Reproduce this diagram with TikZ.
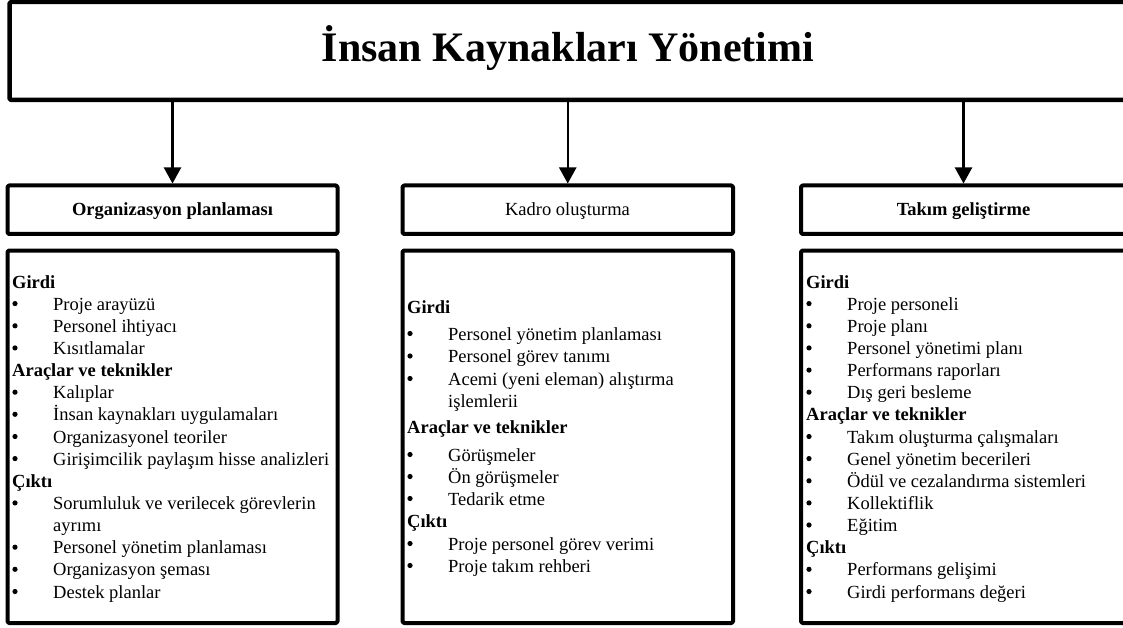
\documentclass[tikz,border=0pt]{standalone}
\usepackage{fontspec}
\setmainfont{Liberation Serif}
\usetikzlibrary{arrows.meta}

% section heading inside a body box
\newcommand\sechead[4]{\node[headtext] (#1) at (#2,#3) {#4};}
% bulleted entry: bullet at the left, text indented
\newcommand\bulitem[4]{%
  \fill (#2+3,#3-6.5) circle[radius=2.6pt];
  \node[itemtext] (#1) at (#2+41,#3) {#4};}
% continuation line of a bulleted entry
\newcommand\contitem[4]{\node[itemtext] (#1) at (#2+41,#3) {#4};}

\begin{document}
\begin{tikzpicture}[x=1pt,y=-1pt,
  frame/.style={draw=black, fill=white, line width=4pt, rounded corners=1.5pt,
                line join=round, inner sep=0pt},
  titletext/.style={font=\fontsize{42}{50}\selectfont\bfseries, anchor=base, inner sep=0pt},
  boxtitle/.style={font=\fontsize{18.5}{22}\selectfont, anchor=base, inner sep=0pt},
  headtext/.style={font=\fontsize{18.5}{22}\selectfont\bfseries, anchor=base west, inner sep=0pt},
  itemtext/.style={font=\fontsize{18.5}{22}\selectfont, anchor=base west, inner sep=0pt},
  conn/.style={draw=black, line width=2.2pt, -{Triangle[width=17pt,length=16pt]}}
]
\useasboundingbox (0,0) rectangle (1123,628);

% top box (runs past the right edge of the page)
\node[frame, line width=4.5pt, minimum width=1121.5pt, minimum height=98pt] (hrm) at (570.25,51) {};
\node[titletext] (title) at (568,62) {İnsan Kaynakları Yönetimi};

% process headers
\node[frame, minimum width=330pt, minimum height=48.5pt] (hdrL) at (172.5,209.75) {};
\node[frame, minimum width=330.5pt, minimum height=48.5pt] (hdrM) at (567.75,209.75) {};
\node[frame, minimum width=332pt, minimum height=48.5pt] (hdrR) at (967,209.75) {};
\node[boxtitle] (hdrLt) at (172.5,216) {\bfseries Organizasyon planlaması};
\node[boxtitle] (hdrMt) at (567.5,216) {Kadro oluşturma};
\node[boxtitle] (hdrRt) at (963.5,216) {\bfseries Takım geliştirme};

% body boxes
\node[frame, minimum width=330pt, minimum height=372.5pt] (bodyL) at (172.5,436.75) {};
\node[frame, minimum width=330.5pt, minimum height=372.5pt] (bodyM) at (567.75,436.75) {};
\node[frame, minimum width=332pt, minimum height=372.5pt] (bodyR) at (967,436.75) {};

% connectors
\draw[conn] (hrm.south -| hdrL.north) -- (hdrL.north);
\draw[conn] (hrm.south -| hdrM.north) -- (hdrM.north);
\draw[conn] (hrm.south -| hdrRt.base) -- (hdrR.north -| hdrRt.base);

% left column
\sechead{l0}{12}{288}{Girdi}
\bulitem{l1}{12}{310.1}{Proje arayüzü}
\bulitem{l2}{12}{332.3}{Personel ihtiyacı}
\bulitem{l3}{12}{354.4}{Kısıtlamalar}
\sechead{l4}{12}{376.6}{Araçlar ve teknikler}
\bulitem{l5}{12}{398.7}{Kalıplar}
\bulitem{l6}{12}{420.8}{İnsan kaynakları uygulamaları}
\bulitem{l7}{12}{443}{Organizasyonel teoriler}
\bulitem{l8}{12}{465.1}{Girişimcilik paylaşım hisse analizleri}
\sechead{l9}{12}{487.3}{Çıktı}
\bulitem{l10}{12}{509.4}{Sorumluluk ve verilecek görevlerin}
\contitem{l11}{12}{531.5}{ayrımı}
\bulitem{l12}{12}{553.7}{Personel yönetim planlaması}
\bulitem{l13}{12}{575.8}{Organizasyon şeması}
\bulitem{l14}{12}{598}{Destek planlar}

% middle column
\sechead{m0}{407}{313}{Girdi}
\bulitem{m1}{407}{340}{Personel yönetim planlaması}
\bulitem{m2}{407}{362.5}{Personel görev tanımı}
\bulitem{m3}{407}{385}{Acemi (yeni eleman) alıştırma}
\contitem{m4}{407}{407}{işlemlerii}
\sechead{m5}{407}{433}{Araçlar ve teknikler}
\bulitem{m6}{407}{461}{Görüşmeler}
\bulitem{m7}{407}{483}{Ön görüşmeler}
\bulitem{m8}{407}{505}{Tedarik etme}
\sechead{m9}{407}{527}{Çıktı}
\bulitem{m10}{407}{550}{Proje personel görev verimi}
\bulitem{m11}{407}{572}{Proje takım rehberi}

% right column
\sechead{r0}{806}{288}{Girdi}
\bulitem{r1}{806}{310.1}{Proje personeli}
\bulitem{r2}{806}{332.3}{Proje planı}
\bulitem{r3}{806}{354.4}{Personel yönetimi planı}
\bulitem{r4}{806}{376.6}{Performans raporları}
\bulitem{r5}{806}{398.7}{Dış geri besleme}
\sechead{r6}{806}{420.8}{Araçlar ve teknikler}
\bulitem{r7}{806}{443}{Takım oluşturma çalışmaları}
\bulitem{r8}{806}{465.1}{Genel yönetim becerileri}
\bulitem{r9}{806}{487.3}{Ödül ve cezalandırma sistemleri}
\bulitem{r10}{806}{509.4}{Kollektiflik}
\bulitem{r11}{806}{531.5}{Eğitim}
\sechead{r12}{806}{553.7}{Çıktı}
\bulitem{r13}{806}{575.8}{Performans gelişimi}
\bulitem{r14}{806}{598}{Girdi performans değeri}
\end{tikzpicture}
\end{document}
